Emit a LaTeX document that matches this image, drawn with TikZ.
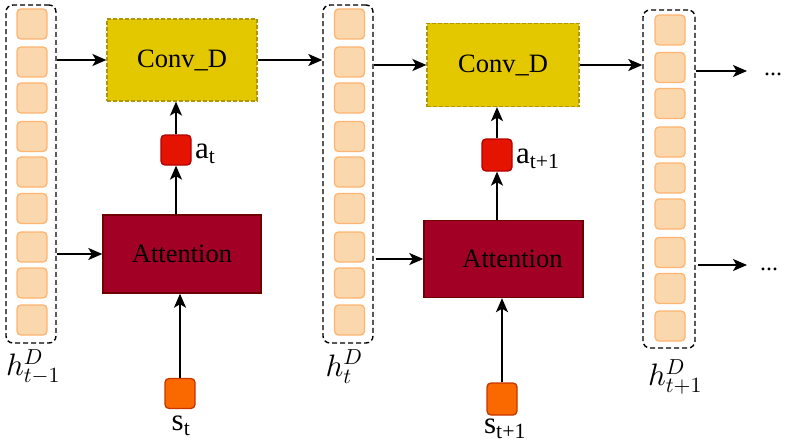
\documentclass[tikz,border=0pt]{standalone}
\usepackage{fontspec}
\setmainfont{Liberation Serif}
\DeclareFontShape{OML}{cmm}{m}{it}{<-> cmmi10}{}
\DeclareFontShape{OMS}{cmsy}{m}{n}{<-> cmsy10}{}
\DeclareFontShape{OT1}{cmr}{m}{n}{<-> cmr10}{}
\usetikzlibrary{arrows.meta,calc}
\definecolor{cellF}{HTML}{FAD7AC}
\definecolor{cellB}{HTML}{FFB570}
\definecolor{convF}{HTML}{E3C800}
\definecolor{convB}{HTML}{B09500}
\definecolor{attF}{HTML}{A20025}
\definecolor{attB}{HTML}{6F0000}
\definecolor{aF}{HTML}{E51400}
\definecolor{aB}{HTML}{B20000}
\definecolor{sF}{HTML}{FA6800}
\definecolor{sB}{HTML}{C73500}
\tikzset{
  cell/.style={draw=cellB, fill=cellF, rounded corners=4pt, minimum size=30pt, inner sep=0pt, line width=1.3pt},
  colbox/.style={draw=black, dash pattern=on 5pt off 3pt, rounded corners=7pt, line width=1.4pt, inner sep=0pt, minimum width=50pt, minimum height=338pt},
  convbox/.style={draw=convB, fill=convF, dash pattern=on 4pt off 2pt, line width=1.2pt, inner sep=0pt, minimum width=150pt, minimum height=82pt, font=\fontsize{26.5}{30}\selectfont},
  attbox/.style={draw=attB, fill=attF, line width=1.4pt, inner sep=0pt, minimum width=158pt, minimum height=78pt, font=\fontsize{26.5}{30}\selectfont},
  abox/.style={draw=aB, fill=aF, rounded corners=4pt, minimum size=30pt, inner sep=0pt, line width=1.3pt},
  sbox/.style={draw=sB, fill=sF, rounded corners=4pt, minimum size=30pt, inner sep=0pt, line width=1.3pt},
  lbl/.style={inner sep=0pt, font=\fontsize{31}{33}\selectfont},
  mlbl/.style={inner sep=0pt, font=\fontsize{31}{33}\selectfont},
  arr/.style={-{Stealth[length=14pt,width=12pt,inset=3.5pt]}, line width=1.8pt},
}
\begin{document}
\begin{tikzpicture}[x=1pt,y=-1pt]
\useasboundingbox[fill=white] (0,0) rectangle (790,444);
% columns of cells
\foreach \yy [count=\i] in {24,62,98,136.5,172,208.5,247,283,320} {
  \node[cell] (pa\i) at (32,\yy) {};
  \node[cell] (pb\i) at (349.5,\yy) {};
}
\foreach \yy [count=\i] in {30,67.5,103.5,142,178,214,252.5,288.5,326} {
  \node[cell] (pc\i) at (670,\yy) {};
}
\node[colbox] (col1) at (31,174) {};
\node[colbox] (col2) at (348,174) {};
\node[colbox, minimum width=52pt] (col3) at (669,179) {};
\node[mlbl] (h1) at (33,367) {$h^{D}_{t-1}$};
\node[mlbl] (h2) at (344,367) {$h^{D}_{t}$};
\node[mlbl] (h3) at (675,377) {$h^{D}_{t+1}$};
% step t
\node[convbox] (conv1) at (182,60) {Conv\_D};
\node[attbox] (att1) at (182,254) {Attention};
\node[abox] (a1) at (176,150) {};
\node[lbl, anchor=west] (la1) at (195,154) {a\textsubscript{t}};
\node[sbox] (s1) at (180,393.5) {};
\node[lbl] (ls1) at (181,426) {s\textsubscript{t}};
% step t+1
\node[convbox, minimum width=152pt, minimum height=83pt] (conv2) at (503,65) {Conv\_D};
\node[attbox, minimum width=159pt, minimum height=77pt] (att2) at (503.5,259) {\hspace*{18pt}Attention};
\node[abox, minimum height=32pt] (a2) at (497,155) {};
\node[lbl, anchor=west] (la2) at (516,159) {a\textsubscript{t+1}};
\node[sbox, minimum height=32pt] (s2) at (502,399) {};
\node[lbl] (ls2) at (505,428.5) {s\textsubscript{t+1}};
% outputs
\coordinate (o1) at (747,71);
\coordinate (o2) at (747,265);
\node[inner sep=0pt, anchor=base, font=\fontsize{24}{26}\selectfont] (d1) at (773,76) {...};
\node[inner sep=0pt, anchor=base, font=\fontsize{24}{26}\selectfont] (d2) at (769,270) {...};
% connectors
\draw[arr] (col1.east |- conv1.west) -- (conv1.west);
\draw[arr] (col1.east |- att1.west) -- (att1.west);
\draw[arr] (att1.north -| a1) -- (a1.south);
\draw[arr] (a1.north) -- (a1.north |- conv1.south);
\draw[arr] (s1.north) -- (s1.north |- att1.south);
\draw[arr] (conv1.east) -- (conv1.east -| col2.west);
\draw[arr] (col2.east |- conv2.west) -- (conv2.west);
\draw[arr] ($(col2.east |- att2.west)+(2,0)$) -- (att2.west);
\draw[arr] (att2.north -| a2) -- (a2.south);
\draw[arr] (a2.north) -- (a2.north |- conv2.south);
\draw[arr] (s2.north) -- (s2.north |- att2.south);
\draw[arr] (conv2.east) -- (conv2.east -| col3.west);
\draw[arr] (col3.east |- o1) -- (o1);
\draw[arr] ($(col3.east |- o2)+(2,0)$) -- (o2);
\end{tikzpicture}
\end{document}
